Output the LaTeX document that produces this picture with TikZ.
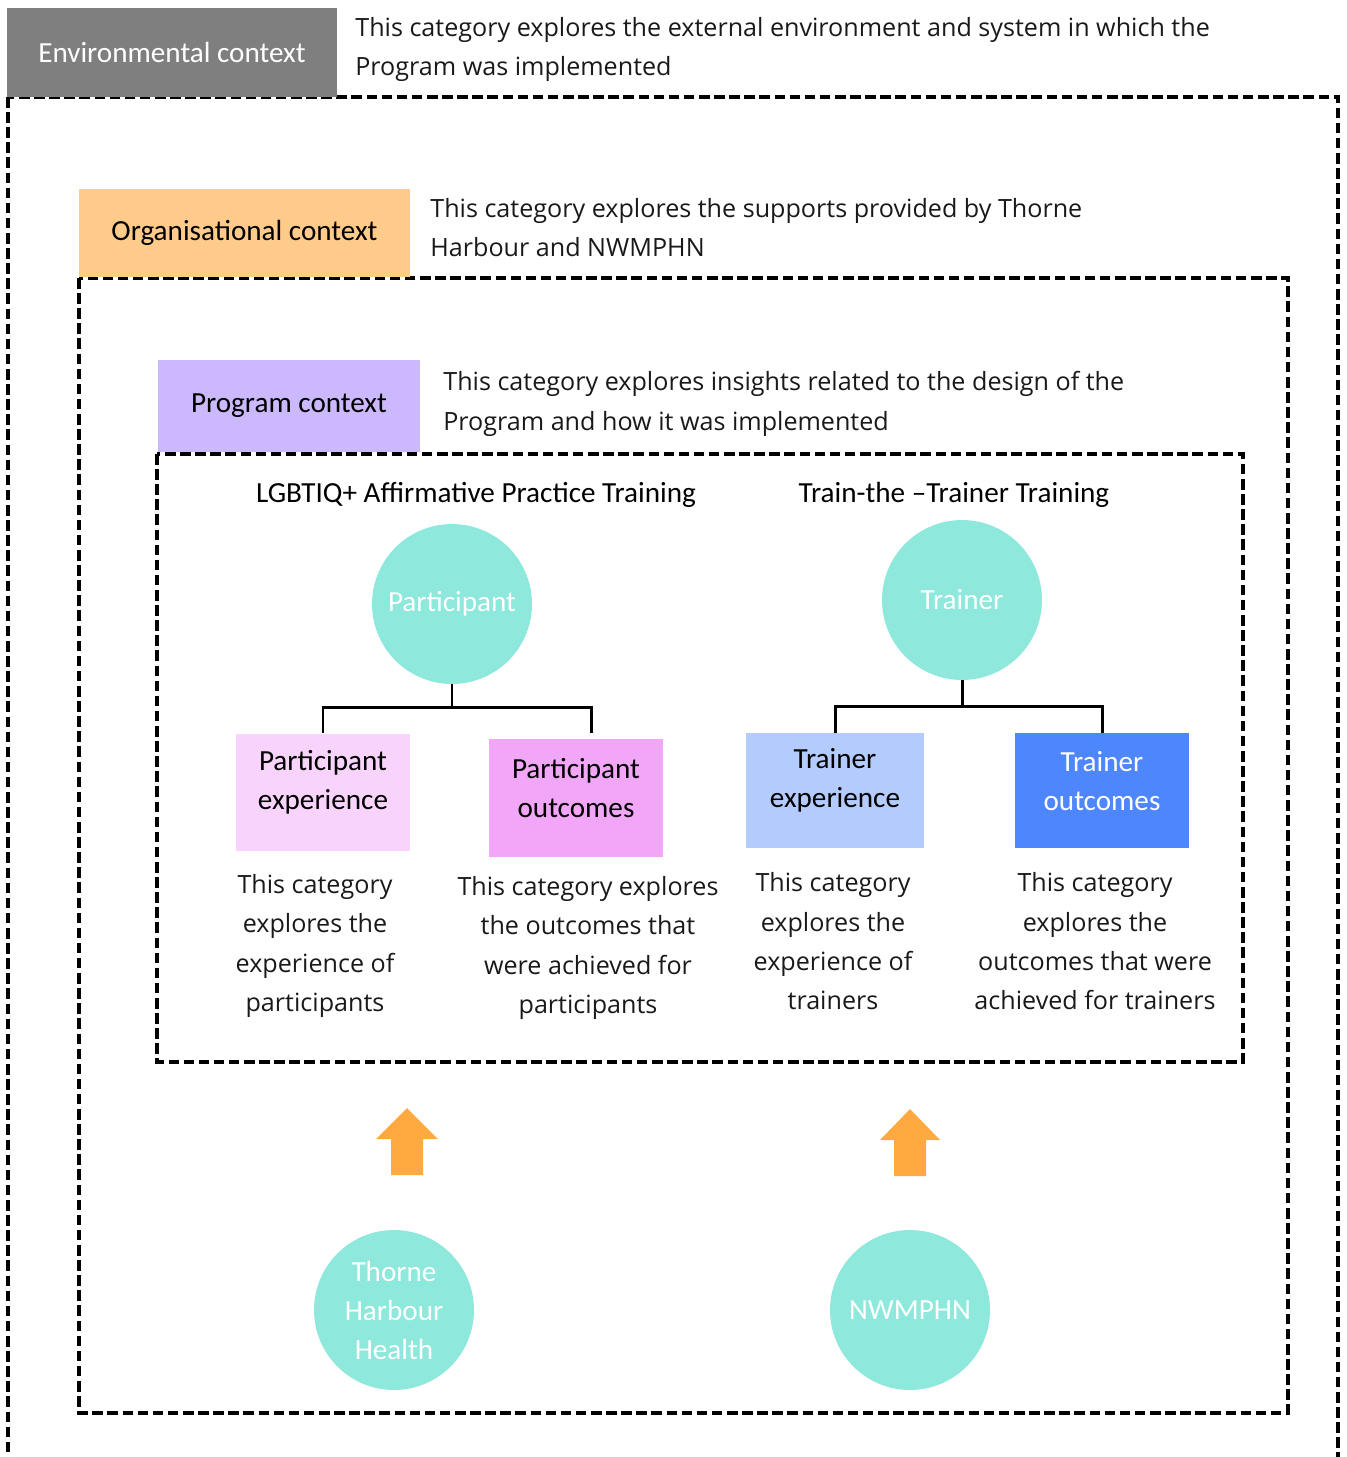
\documentclass[tikz,border=0pt]{standalone}
\usepackage{fontspec}
\setmainfont{Open Sans}
\newfontfamily\labelfont{Carlito}
\usetikzlibrary{positioning}

\definecolor{envgray}{HTML}{7F7F7F}
\definecolor{orgorange}{HTML}{FFCB8B}
\definecolor{proglilac}{HTML}{CBB8FD}
\definecolor{hubteal}{HTML}{8EE8DC}
\definecolor{pinklight}{HTML}{F8D4FC}
\definecolor{pinkdark}{HTML}{F2A6F8}
\definecolor{bluelight}{HTML}{B4CBFD}
\definecolor{bluedark}{HTML}{4D86FD}
\definecolor{arroworange}{HTML}{FFAA40}

\newcommand\descfont{\fontsize{14.3}{22.4}\selectfont}
\newcommand\lblfont{\labelfont\fontsize{16.6}{22.2}\selectfont}

\tikzset{
  frame/.style={draw=black, line width=2pt, dash pattern=on 6pt off 2.6pt},
  ctxbox/.style={font=\lblfont, inner sep=0pt},
  ctxdesc/.style={font=\descfont, text=black!90, align=left, anchor=west, inner sep=0pt},
  hub/.style={circle, fill=hubteal, minimum size=3.2cm, inner sep=0pt, text=white, align=center, font=\lblfont},
  catbox/.style={minimum width=3.48cm, minimum height=2.36cm, inner sep=0pt},
  catlabel/.style={align=center, font=\lblfont, inner sep=0pt, yshift=5.6pt},
  catdesc/.style={align=center, font=\descfont, text=black!90, inner sep=0pt},
  branch/.style={draw=black, line width=1.7pt},
  uparrow/.style={fill=arroworange}
}

\begin{document}
\begin{tikzpicture}[x=0.02cm, y=-0.02cm]
  \useasboundingbox (0,0) rectangle (1346,1457);

  % nested context frames
  \draw[frame] (8,97) rectangle (1338,1490);
  \draw[frame] (79,278) rectangle (1288,1413);
  \draw[frame] (157,454) rectangle (1243,1062);

  % context headers
  \node[ctxbox, fill=envgray, text=white, minimum width=6.6cm, minimum height=1.78cm] (env) at (172,52.5) {Environmental context};
  \node[ctxdesc] (envdesc) at (355,49.5) {This category explores the external environment and system in which the\\Program was implemented};

  \node[ctxbox, fill=orgorange, minimum width=6.62cm, minimum height=1.76cm] (org) at (244.5,233) {Organisational context};
  \node[ctxdesc] (orgdesc) at (430,227.5) {This category explores the supports provided by Thorne\\Harbour and NWMPHN};

  \node[ctxbox, fill=proglilac, minimum width=5.24cm, minimum height=1.84cm] (prog) at (289,406) {Program context};
  \node[ctxdesc] (progdesc) at (443,404) {This category explores insights related to the design of the\\Program and how it was implemented};

  % the two trainings
  \node[font=\lblfont] (lgbt) at (476,495) {LGBTIQ+ Affirmative Practice Training};
  \node[font=\lblfont] (ttt) at (954,495) {Train-the –Trainer Training};

  \node[hub] (part) at (452,604) {Participant};
  \node[hub] (trainer) at (962,600) {Trainer};

  \node[catbox, fill=pinklight, label={[catlabel]center:{Participant\\experience}}] (pexp) at (323,792.5) {};
  \node[catbox, fill=pinkdark, label={[catlabel]center:{Participant\\outcomes}}] (pout) at (576,798) {};
  \node[catbox, fill=bluelight, minimum width=3.56cm, minimum height=2.3cm, label={[catlabel]center:{Trainer\\experience}}] (texp) at (835,790.5) {};
  \node[catbox, fill=bluedark, minimum height=2.3cm, label={[catlabel, text=white]center:{Trainer\\outcomes}}] (tout) at (1102,790.5) {};

  \draw[branch] (part.south) -- ++(0,23) -| (pexp.north);
  \draw[branch] (part.south) -- ++(0,23) -| ([shift={(15,-6)}]pout.north);
  \draw[branch] (trainer.south) -- ++(0,26) -| (texp.north);
  \draw[branch] (trainer.south) -- ++(0,26) -| (tout.north);

  \node[catdesc] (pexpdesc) at (315,946) {This category\\explores the\\experience of\\participants};
  \node[catdesc] (poutdesc) at (588,948) {This category explores\\the outcomes that\\were achieved for\\participants};
  \node[catdesc] (texpdesc) at (833,941.5) {This category\\explores the\\experience of\\trainers};
  \node[catdesc] (toutdesc) at (1095,941.5) {This category\\explores the\\outcomes that were\\achieved for trainers};

  % supporting organisations
  \node[hub] (thh) at (394,1310) {Thorne\\Harbour\\Health};
  \node[hub] (nwmphn) at (910,1310) {NWMPHN};

  \fill[uparrow, shift={(407,1175)}] (-16,0) -- (-16,-36) -- (-31,-36) -- (0,-67) -- (31,-36) -- (16,-36) -- (16,0) -- cycle;
  \fill[uparrow, shift={(910,1176)}] (-16,0) -- (-16,-36) -- (-30,-36) -- (0,-67) -- (30,-36) -- (16,-36) -- (16,0) -- cycle;
\end{tikzpicture}
\end{document}
